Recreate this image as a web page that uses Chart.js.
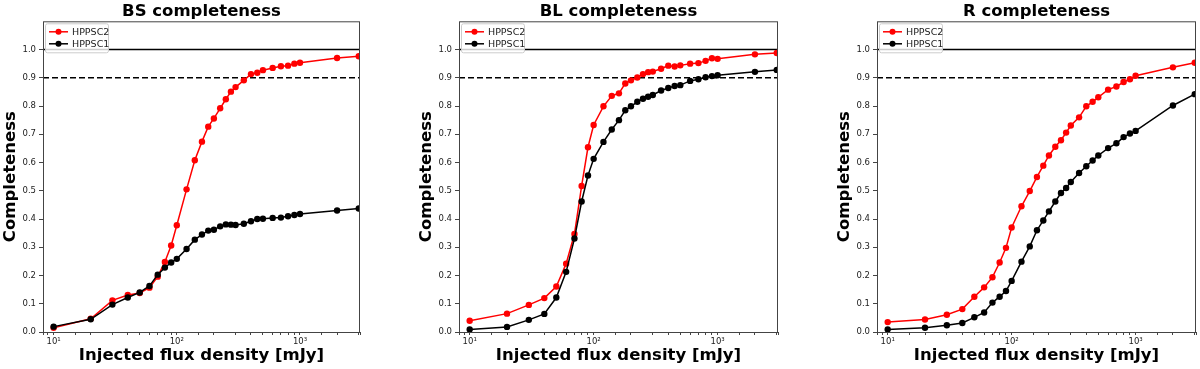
<!DOCTYPE html>
<html>
<head>
<meta charset="utf-8">
<script src="https://cdn.jsdelivr.net/npm/chart.js@4/dist/chart.umd.min.js"></script>
<style>
  body { margin: 0; background: #fff; }
  #wrap { position: relative; width: 1200px; height: 369px; overflow: hidden; }
  canvas { position: absolute; top: 0; }
</style>
</head>
<body>
<div id="wrap">
  <canvas id="bsChart" width="366" height="369" style="left:0px"></canvas>
  <canvas id="blChart" width="366" height="369" style="left:416px"></canvas>
  <canvas id="rChart" width="366" height="369" style="left:834px"></canvas>
</div>
<script>
// injected flux levels [mJy]
const flux = [10, 20, 30, 40, 50, 60, 70, 80, 90, 100, 120, 140, 160, 180, 200, 225, 250, 275, 300, 350,
  400, 450, 500, 600, 700, 800, 900, 1000, 2000, 3000];

// BS band
const bsHppsc2 = [0.015, 0.047, 0.112, 0.131, 0.138, 0.157, 0.196, 0.248, 0.306, 0.378, 0.505, 0.608, 0.674, 0.727, 0.756,
  0.792, 0.824, 0.851, 0.867, 0.891, 0.913, 0.918, 0.927, 0.935, 0.941, 0.943, 0.950, 0.953, 0.970, 0.976];
const bsHppsc1 = [0.019, 0.045, 0.097, 0.122, 0.140, 0.163, 0.203, 0.228, 0.246, 0.259, 0.294, 0.327, 0.345, 0.359, 0.362,
  0.374, 0.381, 0.380, 0.379, 0.383, 0.392, 0.400, 0.401, 0.404, 0.405, 0.410, 0.414, 0.418, 0.430, 0.437];

// BL band
const blHppsc2 = [0.040, 0.065, 0.096, 0.120, 0.161, 0.242, 0.347, 0.517, 0.654, 0.733, 0.799, 0.836, 0.845, 0.880, 0.891,
  0.901, 0.913, 0.920, 0.922, 0.932, 0.943, 0.940, 0.944, 0.950, 0.952, 0.960, 0.969, 0.967, 0.983, 0.988];
const blHppsc1 = [0.009, 0.018, 0.043, 0.064, 0.122, 0.213, 0.331, 0.462, 0.554, 0.613, 0.673, 0.717, 0.750, 0.785, 0.799,
  0.815, 0.826, 0.833, 0.839, 0.855, 0.864, 0.871, 0.874, 0.889, 0.895, 0.902, 0.906, 0.909, 0.921, 0.928];

// R band
const rHppsc2 = [0.035, 0.044, 0.061, 0.081, 0.125, 0.158, 0.194, 0.246, 0.298, 0.370, 0.445, 0.499, 0.549, 0.589, 0.625,
  0.656, 0.679, 0.706, 0.731, 0.760, 0.799, 0.815, 0.831, 0.858, 0.869, 0.885, 0.895, 0.907, 0.937, 0.953];
const rHppsc1 = [0.009, 0.015, 0.024, 0.032, 0.052, 0.069, 0.104, 0.125, 0.145, 0.181, 0.249, 0.303, 0.360, 0.395, 0.427,
  0.462, 0.492, 0.510, 0.531, 0.563, 0.587, 0.607, 0.625, 0.651, 0.668, 0.690, 0.703, 0.712, 0.802, 0.842];

const seriesNames = ['HPPSC2', 'HPPSC1'];
const seriesColors = ['rgb(255,0,0)', 'rgb(0,0,0)'];
const majorLabels = { 10: '10\u00b9', 100: '10\u00b2', 1000: '10\u00b3' };

Chart.defaults.font.family = 'DejaVu Sans';
Chart.defaults.color = '#222';

// frame, reference lines and the boxed legend inside the axes
const extras = {
  id: 'extras',
  beforeDatasetsDraw(chart) {
    const { ctx, chartArea: a, scales: { y } } = chart;
    ctx.save();
    ctx.strokeStyle = '#000';
    ctx.lineWidth = 1.5;
    ctx.beginPath();
    ctx.moveTo(a.left, y.getPixelForValue(1.0));
    ctx.lineTo(a.right, y.getPixelForValue(1.0));
    ctx.stroke();
    ctx.setLineDash([6, 3]);
    ctx.beginPath();
    ctx.moveTo(a.left, y.getPixelForValue(0.9));
    ctx.lineTo(a.right, y.getPixelForValue(0.9));
    ctx.stroke();
    ctx.restore();
  },
  afterDraw(chart) {
    const { ctx, chartArea: a } = chart;
    ctx.save();
    ctx.strokeStyle = '#444';
    ctx.lineWidth = 1;
    ctx.strokeRect(a.left + 0.5, a.top + 0.5, a.right - a.left - 1, a.bottom - a.top);

    // legend
    const lx = a.left + 2, ly = a.top + 2, lw = 63, lh = 29;
    ctx.fillStyle = 'rgba(255,255,255,0.8)';
    ctx.strokeStyle = '#ccc';
    ctx.beginPath();
    ctx.roundRect(lx + 0.5, ly + 0.5, lw, lh, 2);
    ctx.fill();
    ctx.stroke();
    ctx.font = '9.5px DejaVu Sans';
    ctx.textBaseline = 'middle';
    seriesNames.forEach((name, i) => {
      const cy = ly + 8.5 + i * 12;
      ctx.strokeStyle = seriesColors[i];
      ctx.fillStyle = seriesColors[i];
      ctx.lineWidth = 1.5;
      ctx.beginPath();
      ctx.moveTo(lx + 4, cy);
      ctx.lineTo(lx + 23, cy);
      ctx.stroke();
      ctx.beginPath();
      ctx.arc(lx + 13.5, cy, 3, 0, Math.PI * 2);
      ctx.fill();
      ctx.fillStyle = '#222';
      ctx.fillText(name, lx + 27, cy + 0.5);
    });
    ctx.restore();
  }
};

function makeChart(id, title, hppsc2, hppsc1, padRight) {
  const toPoints = vals => vals.map((v, i) => ({ x: flux[i], y: v }));
  return new Chart(document.getElementById(id), {
    type: 'line',
    data: {
      datasets: [
        {
          label: seriesNames[0], data: toPoints(hppsc2), order: 1,
          borderColor: seriesColors[0], backgroundColor: seriesColors[0],
          borderWidth: 1.5, pointRadius: 3.2, pointBorderWidth: 0, tension: 0
        },
        {
          label: seriesNames[1], data: toPoints(hppsc1), order: 0,
          borderColor: seriesColors[1], backgroundColor: seriesColors[1],
          borderWidth: 1.5, pointRadius: 3.2, pointBorderWidth: 0, tension: 0
        }
      ]
    },
    options: {
      responsive: false,
      animation: false,
      devicePixelRatio: 1,
      layout: { padding: { left: 0, right: padRight, top: 0, bottom: 0 } },
      plugins: {
        legend: { display: false },
        tooltip: { enabled: false },
        title: {
          display: true, text: title, color: '#000', fullSize: false,
          font: { size: 16.5, weight: 'bold' }, padding: { top: 1.5, bottom: 0 }
        }
      },
      scales: {
        x: {
          type: 'logarithmic', min: 8.2, max: 3070,
          afterFit: s => { s.height = 37; },
          grid: { display: true, drawOnChartArea: false, drawTicks: true, tickLength: 3, color: '#444' },
          border: { display: false },
          ticks: {
            autoSkip: false, maxRotation: 0, padding: 2, font: { size: 8.5 },
            callback: v => majorLabels[v] || ''
          },
          title: {
            display: true, text: 'Injected flux density [mJy]', color: '#000',
            font: { size: 16.5, weight: 'bold' }, padding: { top: 0, bottom: 3 }
          }
        },
        y: {
          min: 0, max: 1.1,
          afterFit: s => { s.width = 43; },
          grid: { display: true, drawOnChartArea: false, drawTicks: true, tickLength: 4, color: '#444' },
          border: { display: false },
          ticks: {
            stepSize: 0.1, padding: 3, font: { size: 8.5 },
            callback: v => (v > 1.05 ? null : v.toFixed(1))
          },
          title: {
            display: true, text: 'Completeness', color: '#000',
            font: { size: 16.5, weight: 'bold' }, padding: { top: 1, bottom: 0 }
          }
        }
      }
    },
    plugins: [extras]
  });
}

makeChart('bsChart', 'BS completeness', bsHppsc2, bsHppsc1, 6);
makeChart('blChart', 'BL completeness', blHppsc2, blHppsc1, 4);
makeChart('rChart', 'R completeness', rHppsc2, rHppsc1, 3);
</script>
</body>
</html>
